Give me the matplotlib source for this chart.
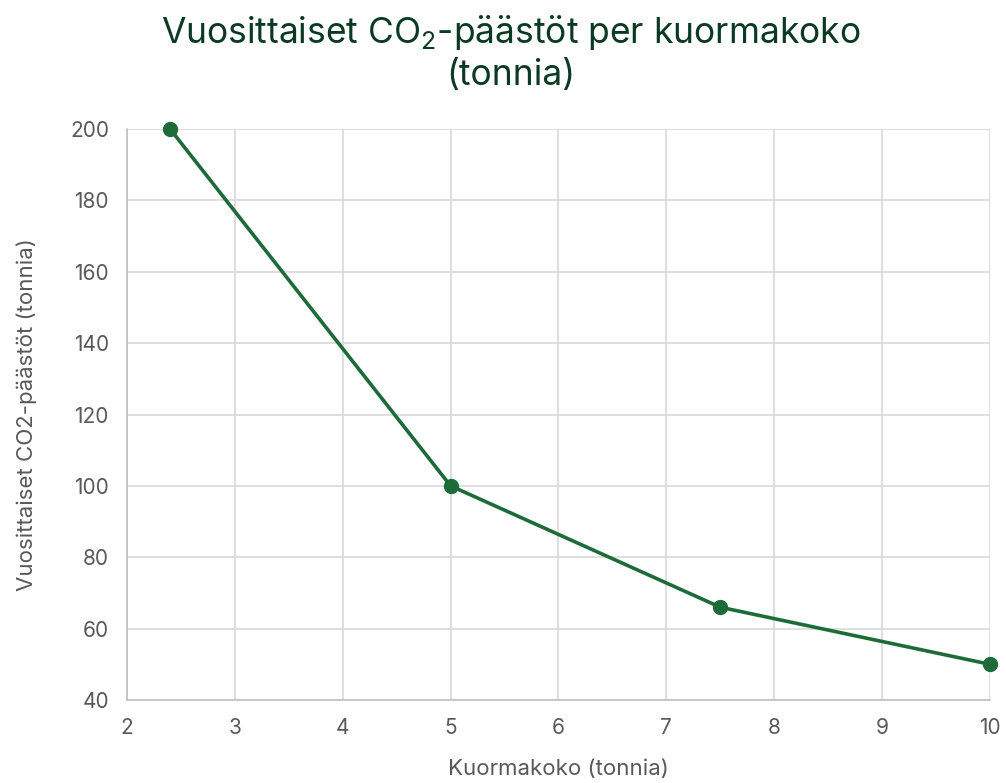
import matplotlib
matplotlib.use('Agg')
import matplotlib.pyplot as plt

# data
kuormakoko = [2.4, 5, 7.5, 10]
paastot = [200, 100, 66, 50]
x_ticks = [2, 3, 4, 5, 6, 7, 8, 9, 10]
y_ticks = [40, 60, 80, 100, 120, 140, 160, 180, 200]

plt.rcParams['font.family'] = ['Inter', 'DejaVu Sans']
plt.rcParams['mathtext.fontset'] = 'custom'
plt.rcParams['mathtext.rm'] = 'Inter'

line_color = '#1e6b3a'
text_gray = '#595959'

fig = plt.figure(figsize=(10.06, 7.83), dpi=100)
ax = fig.add_axes([0.1262, 0.106, 0.8579, 0.7292])

ax.plot(kuormakoko, paastot, color=line_color, linewidth=2.6, marker='o',
        markersize=10, clip_on=False, zorder=3)

ax.set_xlim(2, 10)
ax.set_ylim(40, 200)
ax.set_xticks(x_ticks)
ax.set_yticks(y_ticks)
ax.grid(True, color='#d9d9d9', linewidth=1.2)
ax.set_axisbelow(True)
for s in ['top', 'right']:
    ax.spines[s].set_visible(False)
for s in ['left', 'bottom']:
    ax.spines[s].set_color('#c0c0c0')
    ax.spines[s].set_linewidth(1.2)
ax.tick_params(length=0, labelsize=15, colors=text_gray, pad=13)

ax.set_xlabel('Kuormakoko (tonnia)', fontsize=16, color=text_gray, labelpad=15)
ax.set_ylabel('Vuosittaiset CO2-päästöt (tonnia)', fontsize=16, color=text_gray,
              labelpad=24)

fig.text(0.508, 0.933, 'Vuosittaiset CO$_{\\mathrm{2}}$-päästöt per kuormakoko\n(tonnia)',
         ha='center', va='center', fontsize=25.5, color='#0b3a22', linespacing=1.25)

fig.savefig('out.png', dpi=100)
